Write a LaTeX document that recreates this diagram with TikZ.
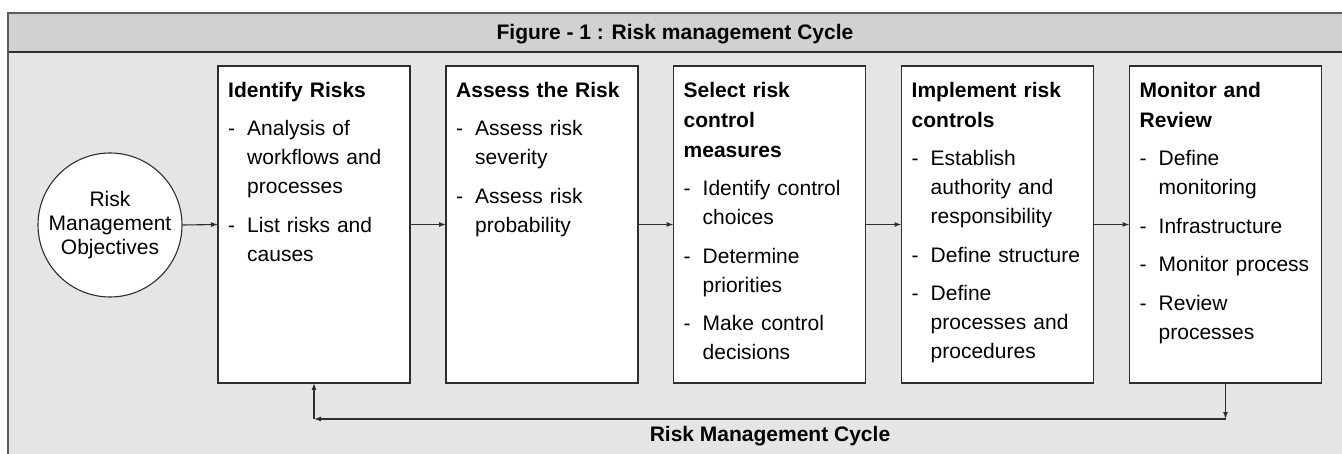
\documentclass[tikz,border=0pt]{standalone}
\usepackage{fontspec}
\setmainfont{Liberation Sans}
\usetikzlibrary{arrows.meta}
\definecolor{bgbody}{HTML}{E4E5E7}
\definecolor{bghead}{HTML}{D0D1D3}
\definecolor{framec}{HTML}{5C5C5C}
\definecolor{linec}{HTML}{2E2E2E}
\newcommand\stepitem[1]{\par\vspace{9.5pt}\hangindent=19pt\hangafter=1\noindent\makebox[19pt][l]{-}#1\par}
\newcommand\stephead[1]{{\bfseries\fontsize{21}{30}\selectfont\rule{0pt}{20pt}#1\par}}
\begin{document}
\begin{tikzpicture}[x=1pt,y=-1pt,
  stepbox/.style={draw=linec,line width=1.2pt,fill=white,minimum width=192pt,minimum height=317pt,inner sep=0pt,outer sep=0pt,anchor=north west},
  steptext/.style={anchor=north west,inner sep=0pt,text width=180pt,align=left,font=\fontsize{21}{29}\selectfont},
  flow/.style={draw=linec,line width=1.1pt,-{Latex[length=7pt,width=5pt]}},
  boldlabel/.style={font=\bfseries\fontsize{21}{24}\selectfont,anchor=base,inner sep=0pt}]
\useasboundingbox (0,0) rectangle (1342,454);
\fill[bgbody] (8,13) rectangle (1342,454);
\fill[bghead] (8,13) rectangle (1342,52);
\draw[linec,line width=1.3pt] (8,52) -- (1342,52);
\draw[framec,line width=2pt] (8,454) -- (8,13) -- (1342,13);
\node[boldlabel] (title) at (675,40) {Figure - 1 : Risk management Cycle};

\node[circle,draw=linec,line width=1.1pt,fill=white,minimum size=144pt,inner sep=0pt,align=center,font=\fontsize{21}{24}\selectfont] (obj) at (110,225) {Risk\\Management\\Objectives};

\node[stepbox] (b1) at (218,66) {};
\node[stepbox] (b2) at (446,66) {};
\node[stepbox] (b3) at (673.5,66) {};
\node[stepbox] (b4) at (901.5,66) {};
\node[stepbox] (b5) at (1129.5,66) {};

\node[steptext] (t1) at ([xshift=10pt,yshift=-11pt]b1.north west) {\stephead{Identify Risks}%
\stepitem{Analysis of\newline workflows and\newline processes}%
\stepitem{List risks and\newline causes}};
\node[steptext] (t2) at ([xshift=10pt,yshift=-11pt]b2.north west) {\stephead{Assess the Risk}%
\stepitem{Assess risk\newline severity}%
\stepitem{Assess risk\newline probability}};
\node[steptext] (t3) at ([xshift=10pt,yshift=-11pt]b3.north west) {\stephead{Select risk\newline control\newline measures}%
\stepitem{Identify control\newline choices}%
\stepitem{Determine\newline priorities}%
\stepitem{Make control\newline decisions}};
\node[steptext] (t4) at ([xshift=10pt,yshift=-11pt]b4.north west) {\stephead{Implement risk\newline controls}%
\stepitem{Establish\newline authority and\newline responsibility}%
\stepitem{Define structure}%
\stepitem{Define\newline processes and\newline procedures}};
\node[steptext] (t5) at ([xshift=10pt,yshift=-11pt]b5.north west) {\stephead{Monitor and\newline Review}%
\stepitem{Define\newline monitoring}%
\stepitem{Infrastructure}%
\stepitem{Monitor process}%
\stepitem{Review\newline processes}};

\draw[flow] (obj.east) -- (b1.west);
\draw[flow] (b1.east) -- (b2.west);
\draw[flow] (b2.east) -- (b3.west);
\draw[flow] (b3.east) -- (b4.west);
\draw[flow] (b4.east) -- (b5.west);

\coordinate (c1) at (b5.south |- 0,419);
\coordinate (c2) at (b1.south |- 0,419);
\draw[flow] (b5.south) -- (c1);
\draw[flow] (c1) -- (c2);
\draw[flow] (c2) -- (b1.south);
\node[boldlabel] (cyc) at (770,441) {Risk Management Cycle};
\end{tikzpicture}
\end{document}
